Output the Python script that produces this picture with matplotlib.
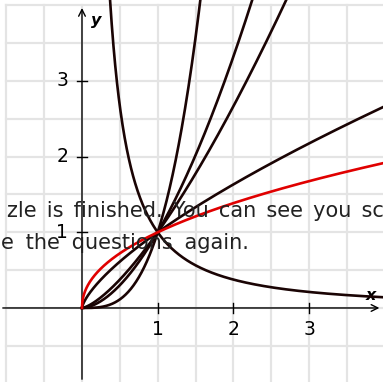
import numpy as np
import matplotlib.pyplot as plt

# power functions y = x**p, all passing through (1, 1)
black_exponents = [np.pi, np.sqrt(3), np.sqrt(2), 1 / np.sqrt(2), -np.sqrt(2)]
red_exponent = 0.47

x_ticks = [1, 2, 3]
y_ticks = [1, 2, 3]

overlay_lines = ["zle is finished. You can see you sc", "e the questions again."]

fig = plt.figure(figsize=(3.83, 3.82), dpi=100)
ax = fig.add_axes([0, 0, 1, 1])
ax.set_xlim(-1.083, 3.976)
ax.set_ylim(-0.978, 4.069)
ax.axis("off")

# light grid every 0.5 unit
grid_kw = dict(color="#e4e4e4", lw=1.6, zorder=0)
for gx in np.arange(-1, 4.01, 0.5):
    ax.plot([gx, gx], [-1, 4], **grid_kw)
for gy in np.arange(-1, 4.01, 0.5):
    ax.plot([-1, 4.2], [gy, gy], **grid_kw)

# axes with arrows
ax.annotate("", xy=(3.965, 0), xytext=(-1.083, 0),
            arrowprops=dict(arrowstyle="->", lw=1.0, color="black", mutation_scale=12), zorder=2)
ax.annotate("", xy=(0, 4.0), xytext=(0, -0.978),
            arrowprops=dict(arrowstyle="->", lw=1.0, color="black", mutation_scale=12), zorder=2)

tick_len = 0.065
for t in x_ticks:
    ax.plot([t, t], [-tick_len, tick_len], color="black", lw=1.0, zorder=2)
    ax.text(t, -0.29, str(t), ha="center", va="center", fontsize=13.5, color="black")
for t in y_ticks:
    ax.plot([-tick_len, tick_len], [t, t], color="black", lw=1.0, zorder=2)
    ax.text(-0.26, t, str(t), ha="center", va="center", fontsize=13.5, color="black")

ax.text(3.82, 0.16, "x", fontsize=11.5, fontweight="bold", fontstyle="italic", ha="center", va="center")
ax.text(0.185, 3.8, "y", fontsize=11.5, fontweight="bold", fontstyle="italic", ha="center", va="center")

# curves
for p in black_exponents:
    if p > 0:
        xs = np.linspace(0, 4.0, 800)
    else:
        xs = np.linspace(0.3, 4.0, 800)
    ax.plot(xs, xs ** p, color="#1a0404", lw=1.9, zorder=3)

xs = np.linspace(0, 4.0, 800)
ax.plot(xs, xs ** red_exponent, color="#e00000", lw=1.9, zorder=4)

# overlay message (cut off at the image edges); the original has wide word gaps
line1 = overlay_lines[0].replace(" ", " \u2006")
line2 = overlay_lines[1].replace(" ", " \u2005")
fig.text(7 / 383, 1 - 217.5 / 382, line1, fontsize=15, color="#222222",
         ha="left", va="baseline", zorder=10)
fig.text(1 / 383, 1 - 249 / 382, line2, fontsize=15, color="#222222",
         ha="left", va="baseline", zorder=10)

fig.savefig("out.png", dpi=100)
